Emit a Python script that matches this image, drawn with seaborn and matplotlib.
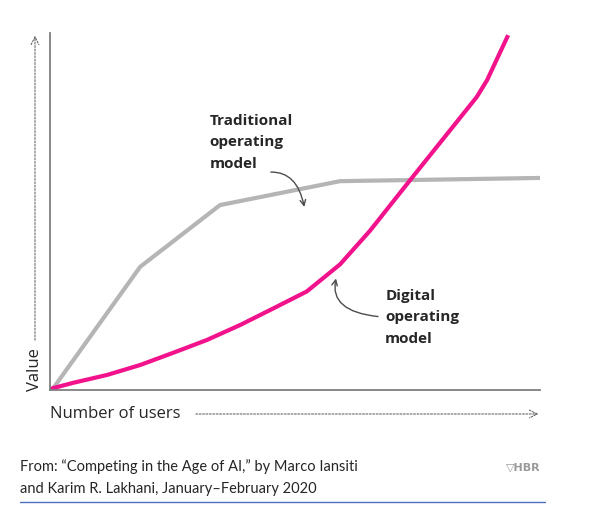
import numpy as np
import pandas as pd
import matplotlib
matplotlib.use("Agg")
import matplotlib.pyplot as plt
import seaborn as sns

sns.set_style("white")
plt.rcParams['font.family'] = ['Open Sans', 'DejaVu Sans']

# traditional operating model (value levels off)
trad_x = [0.4, 18.4, 34.7, 59.2, 100]
trad_y = [0, 34.5, 51.8, 58.5, 59.4]

# digital operating model (value keeps accelerating)
dig_x = [0, 4.7, 11.6, 18.4, 25.1, 32.0, 38.8, 45.5, 52.4, 59.2, 65.3, 73.5,
         82.2, 87.1, 89.2, 93.5]
dig_y = [0.3, 2.0, 4.2, 7.0, 10.4, 14.0, 18.2, 22.8, 27.6, 35.2, 44.6, 58.8,
         73.7, 82.1, 86.8, 99.4]

W, H = 607, 515
fig = plt.figure(figsize=(W / 100, H / 100), dpi=100)
ax = fig.add_axes([50 / W, (H - 390) / H, 490 / W, 357 / H])

sns.lineplot(x=trad_x, y=trad_y, ax=ax, color="#b5b5b5", linewidth=3.0,
             solid_capstyle="butt")
sns.lineplot(x=dig_x, y=dig_y, ax=ax, color="#f2128c", linewidth=3.0,
             solid_capstyle="butt")

ax.set_xlim(0, 100)
ax.set_ylim(0, 100)
ax.set_xticks([])
ax.set_yticks([])
for s in ["top", "right"]:
    ax.spines[s].set_visible(False)
for s in ["left", "bottom"]:
    ax.spines[s].set_color("#7f7f7f")
    ax.spines[s].set_linewidth(1.3)

# annotation labels
lbl = dict(fontsize=11, fontweight="bold", color="#262626",
           linespacing=1.7, va="top", ha="left")
ax.text(32.6, 77.4, "Traditional\noperating\nmodel", **lbl)
ax.text(68.4, 28.4, "Digital\noperating\nmodel", **lbl)

arr = dict(arrowstyle="->", color="#4d4d4d", lw=1.0)
ax.annotate("", xy=(52.0, 50.5), xytext=(44.5, 61.0),
            arrowprops=dict(connectionstyle="angle3,angleA=5,angleB=-80", **arr))
ax.annotate("", xy=(58.5, 32.0), xytext=(67.5, 20.5),
            arrowprops=dict(connectionstyle="angle3,angleA=175,angleB=75", **arr))

# axis titles with dashed arrows
fig.text(35 / W, 1 - 370 / H, "Value", rotation=90, fontsize=12,
         color="#262626", ha="center", va="center")
fig.text(50 / W, 1 - 414 / H, "Number of users", fontsize=12,
         color="#262626", ha="left", va="center")
darr = dict(arrowstyle="->", color="#555555", lw=0.7, linestyle=(0, (2, 1.5)),
            mutation_scale=14)
fig.add_artist(matplotlib.patches.FancyArrowPatch(
    (35 / W, 1 - 343 / H), (35 / W, 1 - 33 / H), transform=fig.transFigure, **darr))
fig.add_artist(matplotlib.patches.FancyArrowPatch(
    (193 / W, 1 - 414 / H), (541 / W, 1 - 414 / H), transform=fig.transFigure, **darr))

# source footer
foot = dict(fontsize=10.5, color="#262626", ha="left", va="center",
            family=["Lato", "DejaVu Sans"])
fig.text(20 / W, 1 - 467 / H,
         "From: \u201cCompeting in the Age of AI,\u201d by Marco Iansiti", **foot)
fig.text(20 / W, 1 - 489 / H,
         "and Karim R. Lakhani, January\u2013February 2020", **foot)
fig.text(1 - 66 / W, 1 - 467 / H, "\u25bdHBR", fontsize=8, fontweight="bold",
         color="#9a9a9a", ha="right", va="center", family=["DejaVu Sans"])
fig.add_artist(plt.Line2D([20 / W, 545 / W], [1 - 502 / H, 1 - 502 / H],
                          transform=fig.transFigure, color="#4a6fc0", lw=1.0))

fig.savefig("out.png", dpi=100)
